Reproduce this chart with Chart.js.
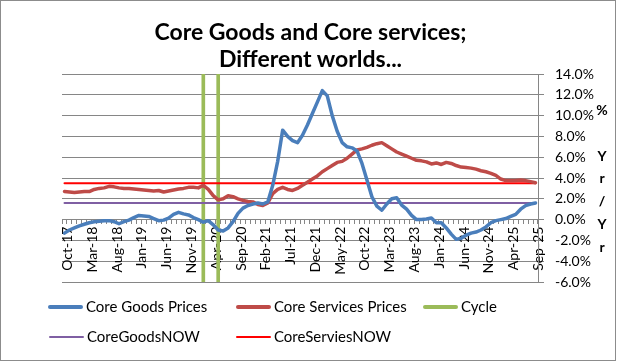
<!DOCTYPE html>
<html><head><meta charset="utf-8">
<script src="https://cdn.jsdelivr.net/npm/chart.js@4.4.0/dist/chart.umd.min.js"></script>
<style>
html,body{margin:0;padding:0;background:#fff;}
#wrap{position:relative;width:617px;height:362px;overflow:hidden;font-family:Lato,'Open Sans',sans-serif;color:#000;}
#c{position:absolute;left:0;top:0;}
#frame{position:absolute;left:0;top:0;width:616px;height:361px;box-sizing:border-box;border:1px solid #8c8c8c;pointer-events:none;}
#title{position:absolute;left:2px;width:617px;top:18px;text-align:center;font-weight:bold;font-size:23px;line-height:27px;}
#ytitle{position:absolute;left:592px;width:20px;top:99px;text-align:center;font-weight:bold;font-size:14px;line-height:22.8px;}
.lg{position:absolute;font-size:15px;line-height:16px;white-space:nowrap;}
.sw{position:absolute;}
</style></head>
<body>
<div id="wrap">
  <canvas id="c" width="617" height="362"></canvas>
  <div id="title">Core Goods and Core services;<br>Different worlds...</div>
  <div id="ytitle">%<br>&nbsp;<br>Y<br>r<br>/<br>Y<br>r</div>
  <div id="legend"></div>
  <div id="frame"></div>
</div>
<script>
const MONTHS = [
 'Oct-17','Nov-17','Dec-17',
 'Jan-18','Feb-18','Mar-18','Apr-18','May-18','Jun-18','Jul-18','Aug-18','Sep-18','Oct-18','Nov-18','Dec-18',
 'Jan-19','Feb-19','Mar-19','Apr-19','May-19','Jun-19','Jul-19','Aug-19','Sep-19','Oct-19','Nov-19','Dec-19',
 'Jan-20','Feb-20','Mar-20','Apr-20','May-20','Jun-20','Jul-20','Aug-20','Sep-20','Oct-20','Nov-20','Dec-20',
 'Jan-21','Feb-21','Mar-21','Apr-21','May-21','Jun-21','Jul-21','Aug-21','Sep-21','Oct-21','Nov-21','Dec-21',
 'Jan-22','Feb-22','Mar-22','Apr-22','May-22','Jun-22','Jul-22','Aug-22','Sep-22','Oct-22','Nov-22','Dec-22',
 'Jan-23','Feb-23','Mar-23','Apr-23','May-23','Jun-23','Jul-23','Aug-23','Sep-23','Oct-23','Nov-23','Dec-23',
 'Jan-24','Feb-24','Mar-24','Apr-24','May-24','Jun-24','Jul-24','Aug-24','Sep-24','Oct-24','Nov-24','Dec-24',
 'Jan-25','Feb-25','Mar-25','Apr-25','May-25','Jun-25','Jul-25','Aug-25','Sep-25'
];
const CORE_GOODS = [
 -1.3,-1.0,-0.8,-0.6,-0.45,-0.3,-0.2,-0.15,-0.1,-0.1,
 -0.2,-0.4,-0.2,-0.05,0.2,0.4,0.35,0.3,0.1,-0.1,
 -0.05,0.15,0.5,0.7,0.55,0.45,0.2,0.0,-0.25,-0.1,
 -0.5,-1.0,-1.1,-0.8,-0.2,0.6,1.1,1.35,1.5,1.6,
 1.5,1.7,3.3,5.6,8.6,8.0,7.6,7.4,8.1,9.1,
 10.2,11.3,12.4,11.9,10.0,8.5,7.4,7.0,6.9,6.6,
 5.4,3.8,2.2,1.3,0.9,1.5,2.0,2.1,1.4,1.0,
 0.4,0.0,0.0,0.05,0.15,-0.3,-0.3,-0.8,-1.4,-1.9,
 -1.8,-1.5,-1.3,-1.2,-1.0,-0.7,-0.3,-0.1,0.0,0.1,
 0.3,0.5,1.0,1.35,1.5,1.6
];
const CORE_SERVICES = [
 2.7,2.65,2.6,2.65,2.7,2.7,2.9,3.0,3.05,3.2,
 3.15,3.05,3.0,3.0,2.95,2.9,2.85,2.8,2.75,2.8,
 2.65,2.75,2.85,2.95,3.0,3.1,3.1,3.05,3.3,2.9,
 2.3,1.9,2.0,2.3,2.2,2.0,1.85,1.75,1.7,1.45,
 1.35,1.6,2.5,2.9,3.1,2.9,2.8,3.0,3.3,3.6,
 3.9,4.2,4.6,4.9,5.2,5.5,5.6,5.9,6.3,6.7,
 6.8,6.95,7.15,7.3,7.4,7.1,6.8,6.5,6.3,6.1,
 5.9,5.7,5.65,5.55,5.35,5.45,5.3,5.5,5.4,5.2,
 5.05,5.0,4.95,4.85,4.7,4.6,4.45,4.25,3.9,3.75,
 3.75,3.75,3.8,3.75,3.65,3.55
];
const CYCLE_MONTHS = ['Feb-20','May-20'];
const CYCLE_RANGE = [-6, 14];
const CORE_GOODS_NOW = 1.6;
const CORE_SERVICES_NOW = 3.5;
const Y_MIN = -6, Y_MAX = 14, Y_STEP = 2;

const cycleData = MONTHS.map(m => CYCLE_MONTHS.includes(m) ? CYCLE_RANGE.slice() : null);
const goodsNow = MONTHS.map(() => CORE_GOODS_NOW);
const servNow = MONTHS.map(() => CORE_SERVICES_NOW);

const BLUE='#4A7EBB', RED='#BE4B48', GREEN='#9BBB59', PURPLE='#7F5FA3', BRIGHT='#FF0000', GRID='#868686';
const FONT='Lato';

// legend (HTML)
const LEG = [
 {t:'Core Goods Prices', c:BLUE, w:4, x:48, y:307},
 {t:'Core Services Prices', c:RED, w:4, x:236, y:307},
 {t:'Cycle', c:GREEN, w:4, x:423, y:307},
 {t:'CoreGoodsNOW', c:PURPLE, w:2.5, x:49, y:337},
 {t:'CoreServiesNOW', c:BRIGHT, w:2.5, x:236, y:337}
];
const lg = document.getElementById('legend');
LEG.forEach(it => {
  const s = document.createElement('div');
  s.className='sw';
  s.style.left = it.x+'px'; s.style.width='35px';
  s.style.top = (it.y - it.w/2)+'px'; s.style.height = it.w+'px';
  s.style.background = it.c; s.style.borderRadius = (it.w/2)+'px';
  lg.appendChild(s);
  const t = document.createElement('div');
  t.className='lg'; t.textContent = it.t;
  t.style.left = (it.x+38)+'px'; t.style.top = (it.y-9)+'px';
  lg.appendChild(t);
});

function lineDs(label, data, color, width, order){
  return {type:'line', label, data, borderColor:color, backgroundColor:color, borderWidth:width,
    pointRadius:0, tension:0, fill:false, borderCapStyle:'round', borderJoinStyle:'round', order};
}

new Chart(document.getElementById('c'), {
  type:'line',
  data:{
    labels: MONTHS,
    datasets:[
      lineDs('Core Goods Prices', CORE_GOODS, BLUE, 3.5, 1),
      lineDs('Core Services Prices', CORE_SERVICES, RED, 3.5, 2),
      {type:'bar', label:'Cycle', data:cycleData, backgroundColor:GREEN, borderWidth:0, barThickness:3, order:5},
      lineDs('CoreGoodsNOW', goodsNow, PURPLE, 2, 3),
      lineDs('CoreServiesNOW', servNow, BRIGHT, 2, 4)
    ]
  },
  options:{
    responsive:false, animation:false, devicePixelRatio:1,
    layout:{padding:{left:62, top:74, right:0, bottom:80}},
    plugins:{legend:{display:false}, title:{display:false}, tooltip:{enabled:false}},
    scales:{
      x:{
        type:'category', position:{y:0}, offset:true,
        grid:{display:true, drawOnChartArea:false, drawTicks:true, tickLength:4, color:GRID, offset:true},
        border:{display:true, color:GRID},
        ticks:{autoSkip:false, maxRotation:90, minRotation:90, padding:3, labelOffset:3, color:'#000',
          font:{family:FONT, size:14},
          callback:(v,i)=> (i%5===0 ? MONTHS[i] : '')},
        afterFit:(s)=>{ s.height = 0; }
      },
      y:{
        position:'right', min:Y_MIN, max:Y_MAX,
        ticks:{stepSize:Y_STEP, padding:11, color:'#000', font:{family:FONT, size:14},
          callback:v=> v.toFixed(1)+'%'},
        grid:{color:GRID, tickLength:6, drawTicks:true},
        border:{display:true, color:GRID},
        afterFit:(s)=>{ s.width = 79; }
      }
    }
  }
});
</script>
</body></html>
